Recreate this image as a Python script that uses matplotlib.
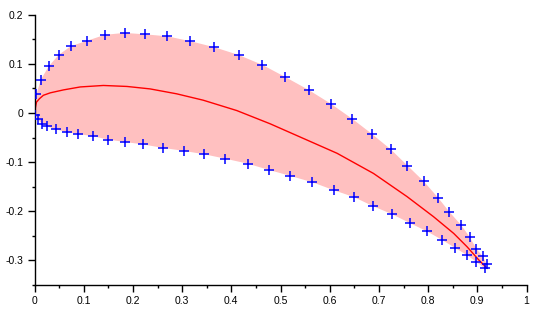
import matplotlib
matplotlib.use("Agg")
import matplotlib.pyplot as plt
from matplotlib.ticker import MultipleLocator, FixedLocator
import numpy as np

# Upper surface sample points
upper_x = [0.004, 0.013, 0.029, 0.049, 0.074, 0.107, 0.143, 0.183, 0.225, 0.270,
           0.317, 0.365, 0.415, 0.463, 0.510, 0.557, 0.602, 0.646, 0.685, 0.724,
           0.758, 0.791, 0.820, 0.843, 0.867, 0.885, 0.898, 0.911, 0.919]
upper_y = [0.038, 0.068, 0.095, 0.118, 0.136, 0.147, 0.159, 0.163, 0.160, 0.156,
           0.146, 0.134, 0.118, 0.098, 0.073, 0.047, 0.019, -0.012, -0.042, -0.074,
           -0.107, -0.139, -0.172, -0.201, -0.228, -0.253, -0.276, -0.292, -0.307]

# Lower surface sample points
lower_x = [0.002, 0.007, 0.015, 0.025, 0.043, 0.066, 0.089, 0.118, 0.149, 0.184,
           0.221, 0.261, 0.303, 0.345, 0.388, 0.433, 0.477, 0.520, 0.565, 0.608,
           0.649, 0.689, 0.727, 0.763, 0.798, 0.828, 0.854, 0.879, 0.898, 0.915]
lower_y = [-0.004, -0.013, -0.022, -0.027, -0.033, -0.039, -0.043, -0.047, -0.054, -0.059,
           -0.064, -0.071, -0.077, -0.084, -0.093, -0.103, -0.116, -0.128, -0.141, -0.157,
           -0.171, -0.190, -0.206, -0.224, -0.241, -0.258, -0.274, -0.289, -0.303, -0.316]

# Mean camber line
camber_x = [0.000, 0.001, 0.002, 0.004, 0.010, 0.018, 0.032, 0.059, 0.093, 0.140,
            0.188, 0.235, 0.289, 0.343, 0.411, 0.479, 0.547, 0.615, 0.689, 0.757,
            0.811, 0.852, 0.879, 0.903, 0.920]
camber_y = [0.000, 0.004, 0.012, 0.022, 0.029, 0.036, 0.041, 0.047, 0.053, 0.056,
            0.054, 0.049, 0.039, 0.026, 0.005, -0.022, -0.052, -0.082, -0.123, -0.170,
            -0.211, -0.245, -0.272, -0.299, -0.316]

x_ticks = [0, 0.1, 0.2, 0.3, 0.4, 0.5, 0.6, 0.7, 0.8, 0.9, 1]
x_labels = ["0", "0.1", "0.2", "0.3", "0.4", "0.5", "0.6", "0.7", "0.8", "0.9", "1"]
y_ticks = [-0.3, -0.2, -0.1, 0, 0.1, 0.2]
y_labels = ["-0.3", "-0.2", "-0.1", "0", "0.1", "0.2"]

plt.rcParams["font.family"] = ["Liberation Sans", "DejaVu Sans"]

fig = plt.figure(figsize=(5.38, 3.23), dpi=100)
ax = fig.add_axes([34.5 / 538, 38.0 / 323, 492.0 / 538, 270.3 / 323])

# Section outline: upper surface then lower surface back to the nose
outline_x = np.concatenate([upper_x, lower_x[::-1]])
outline_y = np.concatenate([upper_y, lower_y[::-1]])
ax.fill(outline_x, outline_y, color="#ffc0c0", lw=0, zorder=1)

ax.plot(camber_x, camber_y, color="red", lw=1.0, zorder=2)

ax.plot(upper_x, upper_y, ls="none", marker="+", ms=7.5, mew=1.1, color="blue", zorder=3)
ax.plot(lower_x, lower_y, ls="none", marker="+", ms=7.5, mew=1.1, color="blue", zorder=3)

ax.set_xlim(0, 1)
ax.set_ylim(-0.35, 0.2)

for side in ("top", "right"):
    ax.spines[side].set_visible(False)
for side in ("left", "bottom"):
    ax.spines[side].set_linewidth(1.0)
    ax.spines[side].set_color("black")

ax.set_xticks(x_ticks)
ax.set_xticklabels(x_labels)
ax.set_yticks(y_ticks)
ax.set_yticklabels(y_labels)
ax.xaxis.set_minor_locator(MultipleLocator(0.05))
ax.yaxis.set_minor_locator(FixedLocator([-0.35, -0.25, -0.15, -0.05, 0.05, 0.15]))
ax.tick_params(which="major", direction="out", length=5, width=1, labelsize=7.5,
               colors="black", pad=3)
ax.tick_params(which="minor", direction="out", length=2.5, width=1)

fig.savefig("out.png", dpi=100)
